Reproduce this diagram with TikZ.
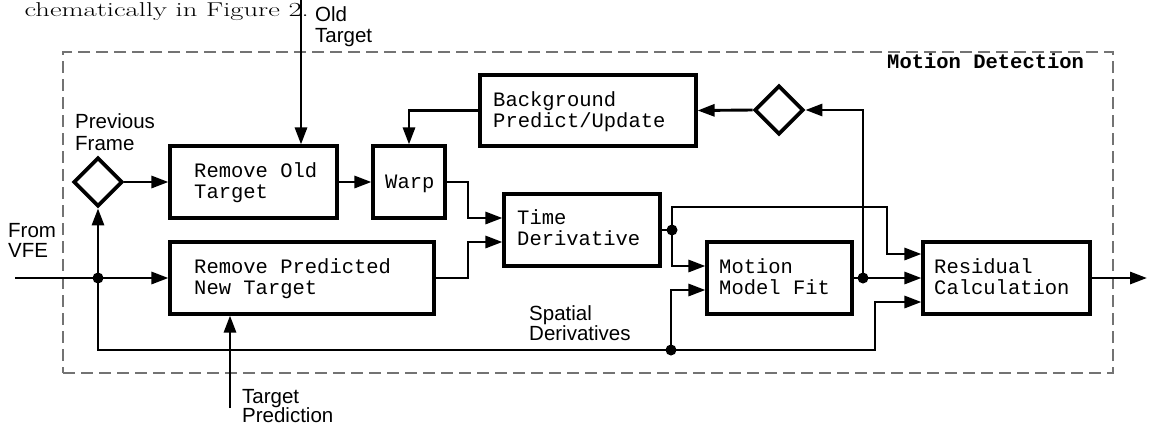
\documentclass[tikz,border=0pt]{standalone}
\usepackage{fontspec}
\usetikzlibrary{arrows.meta,calc,shapes.geometric}
\newfontfamily\sansf{Liberation Sans}
\newfontfamily\monof{Liberation Mono}
\newcommand\twoline[3][21]{\vtop{\baselineskip=#1pt\lineskiplimit=-100pt\lineskip=0pt\hbox{#2}\hbox{#3}}}
\tikzset{
  blk/.style={draw, rectangle, line width=3.1pt, inner sep=0pt},
  dia/.style={draw, diamond, aspect=1, line width=3.8pt, inner sep=0pt, minimum width=49pt, minimum height=49pt},
  wire/.style={line width=2.9pt},
  arr/.style={line width=2.9pt, -{Triangle[length=17pt,width=12pt]}},
  dot/.style={circle, fill, inner sep=0pt, minimum size=11pt},
  boxtxt/.style={anchor=base west, inner sep=0pt, font=\monof\fontsize{20.5}{21}\selectfont},
  lbl/.style={anchor=base west, inner sep=0pt, font=\sansf\fontsize{20.5}{21}\selectfont},
  frame/.style={draw=black!55, line width=1.4pt, dash pattern=on 12pt off 6pt, rectangle, inner sep=0pt}
}
\begin{document}
\begin{tikzpicture}[x=1pt,y=-1pt]
\useasboundingbox (0,0) rectangle (1150,429);

% frame
\node[frame, minimum width=1050pt, minimum height=321pt] (md) at (588,212.5) {};
\node[anchor=base west, inner sep=0pt, font=\monof\bfseries\fontsize{20.5}{21}\selectfont] (mdt) at (887,68) {Motion Detection};

% top text
\node[anchor=base east, inner sep=0pt] (cap) at (309,16) {\scalebox{1.43}[1]{\fontsize{20}{23}\selectfont chematically in Figure 2.}};

% blocks
\node[blk, minimum width=167pt, minimum height=72pt] (rot) at (253.5,182) {};
\node[blk, minimum width=72pt, minimum height=72pt] (warp) at (409,182) {};
\node[blk, minimum width=216pt, minimum height=71pt] (bg) at (588,110.5) {};
\node[blk, minimum width=264pt, minimum height=72pt] (rpt) at (302,278) {};
\node[blk, minimum width=156pt, minimum height=72pt] (td) at (582,230) {};
\node[blk, minimum width=145pt, minimum height=72pt] (mmf) at (779.5,278) {};
\node[blk, minimum width=167pt, minimum height=72pt] (res) at (1006.5,278) {};
\node[dia] (dA) at (98,182) {};
\node[dia] (dB) at (779,110) {};

% block texts
\node[boxtxt] (trot) at (194,177) {\twoline{Remove Old}{Target}};
\node[boxtxt] (twarp) at (385,188) {Warp};
\node[boxtxt] (tbg) at (493,106) {\twoline{Background}{Predict/Update}};
\node[boxtxt] (trpt) at (194,273) {\twoline{Remove Predicted}{New Target}};
\node[boxtxt] (ttd) at (517,224) {\twoline{Time}{Derivative}};
\node[boxtxt] (tmmf) at (719,273) {\twoline{Motion}{Model Fit}};
\node[boxtxt] (tres) at (934,273) {\twoline{Residual}{Calculation}};

% labels
\node[lbl] (lold) at (315,21) {\twoline{Old}{Target}};
\node[lbl] (lprev) at (75,128) {\twoline[22]{Previous}{Frame}};
\node[lbl] (lvfe) at (8,237) {\twoline[20]{From}{VFE}};
\node[lbl] (lsp) at (529,320) {\twoline[20]{Spatial}{Derivatives}};
\node[lbl] (ltp) at (242,403) {\twoline[19]{Target}{Prediction}};

% coordinates
\coordinate (otin) at (301,0);
\coordinate (vfe) at (15,278);
\coordinate (tp) at (230,408);
\coordinate (out) at (1147,278);
\coordinate (xm) at (468,0);
\coordinate (c1) at (887,207);
\coordinate (b2) at (875,302);
\node[dot] (j1) at (98,278) {};
\node[dot] (j2) at (671,350) {};
\node[dot] (j3) at (672,230) {};
\node[dot] (j4) at (863,278) {};

% connectors
\draw[arr] (otin) -- (otin |- rot.north);
\draw[arr] (dA.east) -- (rot.west);
\draw[arr] (rot.east) -- (warp.west);
\draw[arr] (bg.west) -| (warp.north);
\draw[arr] (vfe) -- (rpt.west);
\draw[arr] (j1.center) -- (dA.south);
\draw[arr] (j1.center) |- (j2.center) -| (b2) -- (b2 -| res.west);
\draw[arr] (j2.center) |- ($(mmf.west)+(0,12)$);
\draw[arr] (warp.east) -- (warp.east -| xm) |- ($(td.west)+(0,-12)$);
\draw[arr] (rpt.east) -- (rpt.east -| xm) |- ($(td.west)+(0,12)$);
\draw[wire] (td.east) -- (j3.center);
\draw[arr] (j3.center) |- (c1) |- ($(res.west)+(0,-24)$);
\draw[arr] (j3.center) |- ($(mmf.west)+(0,-12)$);
\draw[wire] (mmf.east) -- (j4.center);
\draw[arr] (j4.center) -- (res.west);
\draw[arr] (j4.center) |- (dB.east);
\draw[arr] (dB.west) -- (bg.east);
\draw[arr] (tp) -- (tp |- rpt.south);
\draw[arr] (res.east) -- (out);
\end{tikzpicture}
\end{document}
